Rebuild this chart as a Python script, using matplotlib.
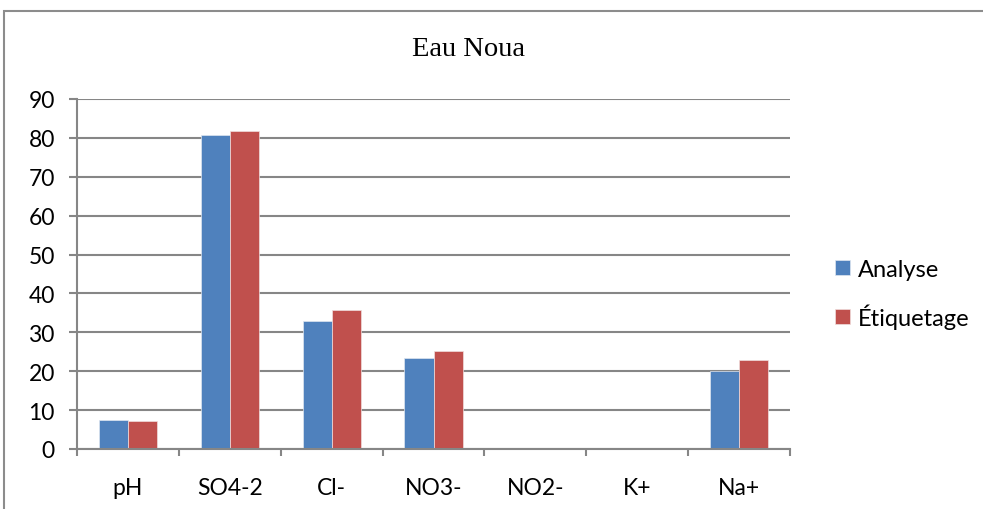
import numpy as np
import matplotlib.pyplot as plt
from matplotlib.patches import Rectangle

categories = ['pH', 'SO4-2', 'Cl-', 'NO3-', 'NO2-', 'K+', 'Na+']
analyse = [7.5, 80.8, 32.8, 23.5, 0, 0, 20.0]
etiquetage = [7.1, 81.9, 35.8, 25.2, 0, 0, 22.9]
y_ticks = [0, 10, 20, 30, 40, 50, 60, 70, 80, 90]

BLUE = '#4F81BD'
RED = '#C0504D'
GRID = '#868686'
FONT = 'Lato'

fig = plt.figure(figsize=(9.83, 5.10), dpi=100)
ax = fig.add_axes([77 / 983, 1 - 450 / 510, (790 - 77) / 983, 350 / 510])

x = np.arange(len(categories))
w = 0.285
ax.bar(x - w / 2, analyse, w, color=BLUE, edgecolor='#dfe6f0', linewidth=0.5, label='Analyse', zorder=3)
ax.bar(x + w / 2, etiquetage, w, color=RED, edgecolor='#f0dede', linewidth=0.5, label='Étiquetage', zorder=3)

ax.set_xlim(-0.5, len(categories) - 0.5)
ax.set_ylim(0, 90)
ax.set_yticks(y_ticks)
ax.set_yticklabels([str(v) for v in y_ticks], fontsize=16.5, family=FONT)
ax.set_xticks(x)
ax.set_xticklabels(categories, fontsize=16.5, family=FONT)
ax.set_xticks(np.arange(len(categories) + 1) - 0.5, minor=True)
ax.tick_params(axis='x', which='major', length=0, pad=20)
ax.tick_params(axis='x', which='minor', length=5, width=1.5, color=GRID)
ax.tick_params(axis='y', length=6, width=1.5, color=GRID, pad=10)

ax.grid(axis='y', color=GRID, linewidth=1.5, zorder=0)
for s in ['top', 'right']:
    ax.spines[s].set_visible(False)
for s in ['left', 'bottom']:
    ax.spines[s].set_color(GRID)
    ax.spines[s].set_linewidth(1.5)
ax.spines['bottom'].set_zorder(4)

fig.text(469 / 983, 1 - 50 / 510, 'Eau Noua', ha='center', va='center',
         fontsize=20.5, family='Liberation Serif')

leg = fig.legend(loc='center left', bbox_to_anchor=(826 / 983, 1 - 295 / 510),
                 frameon=False, prop={'family': FONT, 'size': 17},
                 handlelength=0.6, handleheight=0.6, handletextpad=0.35,
                 labelspacing=1.0, borderaxespad=0)

# chart border (partially cropped on right and bottom)
fig.patches.append(Rectangle((4 / 983, -0.1), 1.2, 1 - 12 / 510 + 0.1,
                             transform=fig.transFigure, fill=False,
                             edgecolor='#8c8c8c', linewidth=1.5))

fig.savefig('out.png', dpi=100)
